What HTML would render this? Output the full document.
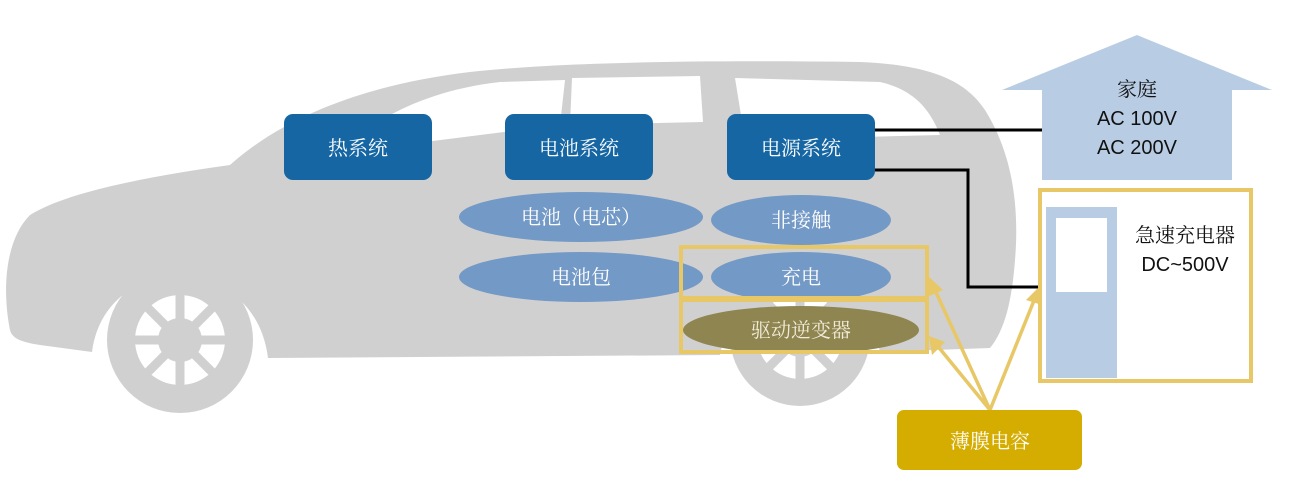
<!DOCTYPE html>
<html><head><meta charset="utf-8"><style>
body{margin:0;background:#fff;width:1291px;height:498px;overflow:hidden}
svg{display:block}
text{font-family:"Liberation Serif","Noto Serif CJK SC","Noto Sans CJK SC",serif}
text.s{font-family:"Liberation Sans","Noto Sans CJK SC",sans-serif}
</style></head><body>
<svg width="1291" height="498" viewBox="0 0 1291 498">
<!-- car body -->
<path d="M10,330 C2,290 5,240 30,215 C70,190 160,175 230,165 C280,120 360,85 470,72 C560,62 700,60 860,62 C930,65 965,80 985,110 C1010,150 1020,200 1015,260 C1012,300 1005,330 990,348 L880,352 C870,290 730,290 720,355 L268,358 C255,250 105,250 92,352 L40,345 C20,342 12,338 10,330 Z" fill="#d0d0d0"/>
<!-- windows -->
<path d="M340,150 C380,115 430,90 500,82 L565,80 L560,125 L345,152 Z" fill="#fff"/>
<path d="M572,78 L700,76 L703,122 L570,125 Z" fill="#fff"/>
<path d="M735,78 L880,82 C915,90 930,110 940,135 L745,140 Z" fill="#fff"/>
<!-- front wheel -->
<circle cx="180" cy="340" r="73" fill="#d0d0d0"/>
<circle cx="180" cy="340" r="45" fill="#fff"/>
<g stroke="#d0d0d0" stroke-width="9">
<line x1="180" y1="340" x2="180" y2="290"/><line x1="180" y1="340" x2="180" y2="390"/>
<line x1="180" y1="340" x2="130" y2="340"/><line x1="180" y1="340" x2="230" y2="340"/>
<line x1="180" y1="340" x2="215" y2="305"/><line x1="180" y1="340" x2="145" y2="375"/>
<line x1="180" y1="340" x2="145" y2="305"/><line x1="180" y1="340" x2="215" y2="375"/></g>
<circle cx="180" cy="340" r="22" fill="#d0d0d0"/>
<!-- rear wheel -->
<circle cx="800" cy="336" r="70" fill="#d0d0d0"/>
<circle cx="800" cy="336" r="43" fill="#fff"/>
<g stroke="#d0d0d0" stroke-width="9">
<line x1="800" y1="336" x2="800" y2="290"/><line x1="800" y1="336" x2="800" y2="385"/>
<line x1="800" y1="336" x2="752" y2="336"/><line x1="800" y1="336" x2="848" y2="336"/>
<line x1="800" y1="336" x2="834" y2="302"/><line x1="800" y1="336" x2="766" y2="370"/>
<line x1="800" y1="336" x2="766" y2="302"/><line x1="800" y1="336" x2="834" y2="370"/></g>
<circle cx="800" cy="336" r="21" fill="#d0d0d0"/>
<!-- system boxes -->
<g fill="#1566a3"><rect x="284" y="114" width="148" height="66" rx="9"/><rect x="505" y="114" width="148" height="66" rx="9"/><rect x="727" y="114" width="148" height="66" rx="9"/></g>
<g fill="#fff" font-size="20" text-anchor="middle"><text x="358" y="155">热系统</text><text x="579" y="155">电池系统</text><text x="801" y="155">电源系统</text></g>
<!-- ellipses -->
<g fill="#7399c6"><ellipse cx="581" cy="217" rx="122" ry="25"/><ellipse cx="801" cy="220" rx="90" ry="25"/><ellipse cx="581" cy="277" rx="122" ry="25"/><ellipse cx="801" cy="277" rx="90" ry="25"/></g>
<ellipse cx="801" cy="330" rx="118" ry="24" fill="#8f8550"/>
<g fill="#fff" font-size="20" text-anchor="middle"><text x="581" y="224">电池（电芯）</text><text x="801" y="227">非接触</text><text x="581" y="284">电池包</text><text x="801" y="284">充电</text><text x="801" y="337" fill="#f0ecd8">驱动逆变器</text></g>
<g fill="none" stroke="#e8c766" stroke-width="4"><rect x="681" y="247" width="246" height="51"/><rect x="681" y="300" width="246" height="52"/></g>
<!-- lines -->
<g fill="none" stroke="#000" stroke-width="3"><path d="M875,130 H1042"/><path d="M875,170 H968 V287 H1042"/></g>
<!-- house -->
<path d="M1137,35 L1272,90 L1232,90 L1232,180 L1042,180 L1042,90 L1002,90 Z" fill="#b8cde4"/>
<g font-size="20" text-anchor="middle" fill="#111"><text x="1137" y="96">家庭</text><text class="s" x="1137" y="125">AC 100V</text><text class="s" x="1137" y="154">AC 200V</text></g>
<!-- charger -->
<rect x="1040" y="190" width="211" height="191" fill="#fff" stroke="#e8c766" stroke-width="4"/>
<rect x="1046" y="207" width="71" height="171" fill="#b8cde4"/>
<rect x="1056" y="218" width="51" height="74" fill="#fff"/>
<g font-size="20" text-anchor="middle" fill="#111"><text x="1185" y="242">急速充电器</text><text class="s" x="1185" y="271">DC~500V</text></g>
<!-- arrows -->
<g stroke="#e8c766" stroke-width="3.5"><line x1="990" y1="410" x2="934" y2="288"/><line x1="990" y1="410" x2="936" y2="344"/><line x1="990" y1="410" x2="1035" y2="298"/></g>
<g fill="#e8c766">
<polygon points="929,277 927,297 943,290"/>
<polygon points="929,336 932,355 945,342"/>
<polygon points="1040,286 1026,300 1042,305"/>
</g>
<rect x="897" y="410" width="185" height="60" rx="7" fill="#d4ad00"/>
<text x="990" y="448" font-size="20" text-anchor="middle" fill="#fff">薄膜电容</text>
</svg>
</body></html>
